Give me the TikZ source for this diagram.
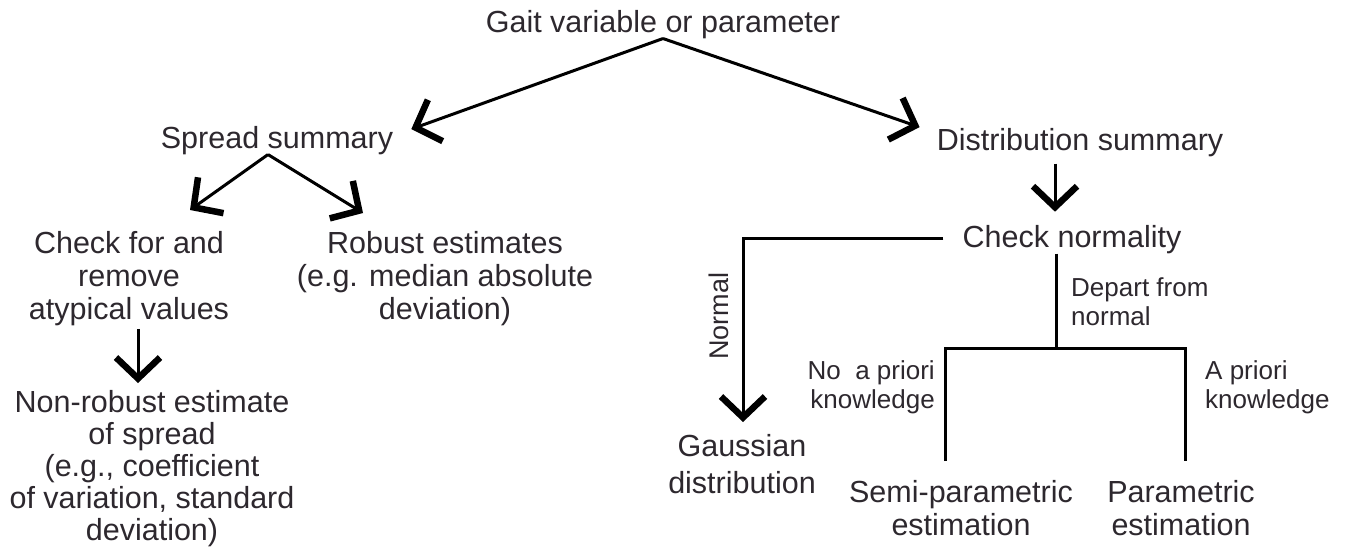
\documentclass[tikz,border=0pt]{standalone}
\usepackage{fontspec}
\setmainfont{Liberation Sans}
\usetikzlibrary{arrows.meta}
\definecolor{txt}{RGB}{45,40,46}
\begin{document}
\begin{tikzpicture}[x=1pt,y=-1pt,
  main/.style={font=\fontsize{30.5}{33}\selectfont, text=txt, inner sep=0pt, align=center},
  lab/.style={font=\fontsize{26}{29}\selectfont, text=txt, inner sep=0pt},
  conn/.style={line width=3pt, black},
  arr/.style={conn, -{Straight Barb[length=21pt,width=44pt,line width=6.5pt,sharp]}}]
\useasboundingbox[fill=white] (0,0) rectangle (1349,552);
% nodes
\node[main, anchor=base] (gait) at (663,32) {Gait variable or parameter};
\node[main, anchor=base] (spread) at (277,148) {Spread summary};
\node[main, anchor=base] (dist) at (1080,150) {Distribution summary};
\node[main, anchor=north] (checkfor) at (129,231) {Check for and\\remove\\atypical values};
\node[main, anchor=north] (robust) at (445,231) {Robust estimates\\(e.g. median absolute\\deviation)};
\node[main, anchor=north, font=\fontsize{30.5}{32}\selectfont] (nonrobust) at (152,390) {Non-robust estimate\\of spread\\(e.g., coefficient\\of variation, standard\\deviation)};
\node[main, anchor=base] (checknorm) at (1072,247) {Check normality};
\node[main, anchor=north, font=\fontsize{30.5}{37}\selectfont] (gauss) at (742,434) {Gaussian\\distribution};
\node[main, anchor=north] (semi) at (961,480) {Semi-parametric\\estimation};
\node[main, anchor=north] (param) at (1181,480) {Parametric\\estimation};
% labels
\node[lab, anchor=north west, align=left] (depart) at (1071,277) {Depart from\\normal};
\node[lab, anchor=north east, align=right] (noprior) at (935,360) {No\ \ a priori\\knowledge};
\node[lab, anchor=north west, align=left] (prior) at (1205,360) {A priori\\knowledge};
\node[lab, font=\fontsize{27}{30}\selectfont, rotate=90] (normal) at (719,316) {Normal};
% connectors
\draw[arr] (gait.south) -- ([xshift=18pt,yshift=11pt]spread.east);
\draw[arr] (gait.south) -- ([xshift=-17pt,yshift=15pt]dist.west);
\draw[arr] ([xshift=-9pt]spread.south) -- ([xshift=61pt,yshift=21pt]checkfor.north);
\draw[arr] ([xshift=-9pt]spread.south) -- ([xshift=-82pt,yshift=18pt]robust.north);
\draw[arr] ([xshift=9pt,yshift=-3pt]checkfor.south) -- ([xshift=-14pt,yshift=7pt]nonrobust.north);
\draw[arr] ([xshift=-25pt,yshift=-7pt]dist.south) -- ([xshift=-17pt,yshift=13pt]checknorm.north);
\draw[arr] ([xshift=-19pt,yshift=1pt]checknorm.west) -| ([xshift=1pt,yshift=12pt]gauss.north);
\coordinate (split) at (1056,348);
\draw[conn] ([xshift=-16pt]checknorm.south) -- (split);
\draw[conn] ([xshift=-16pt,yshift=19pt]semi.north) |- (split) -| ([xshift=4pt,yshift=19pt]param.north);
\end{tikzpicture}
\end{document}
